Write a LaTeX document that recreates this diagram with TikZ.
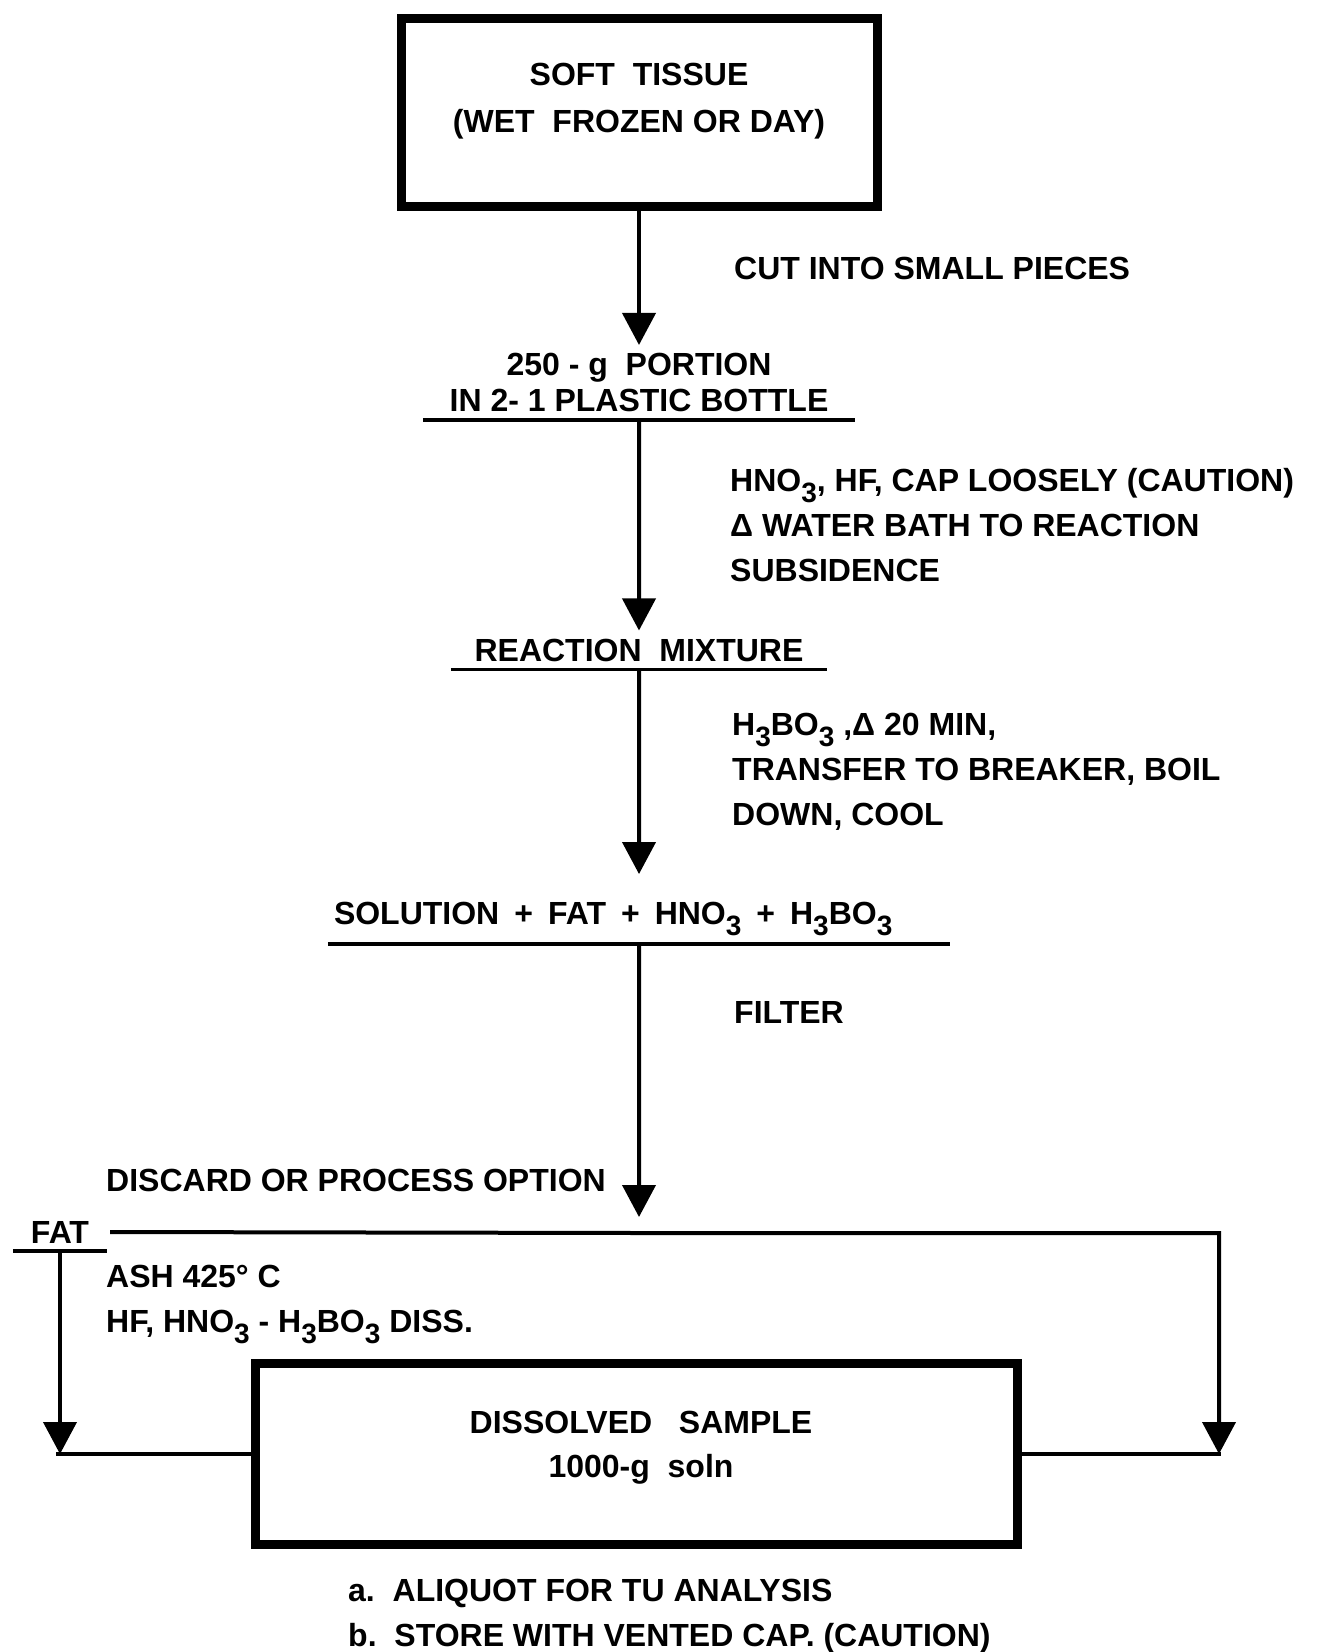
\documentclass[tikz,border=0pt]{standalone}
\usepackage{fontspec}
\setmainfont{Liberation Sans}
\usetikzlibrary{arrows.meta}

\newcommand{\chemsub}[1]{\raisebox{-.34em}{\fontsize{28}{28}\selectfont #1}}
\newcommand{\plusgap}{\hspace{15pt}+\hspace{15pt}}

\tikzset{
  flow/.style={line width=4pt, -{Triangle[width=33pt,length=32pt]}},
  rule/.style={line width=3.5pt},
  box/.style={draw, line width=9pt, inner sep=0pt},
  stage/.style={align=center, inner xsep=0pt, inner ysep=8pt},
  note/.style={align=left, anchor=west, inner sep=0pt},
}

\begin{document}
\begin{tikzpicture}[x=1pt, y=1pt, font=\fontsize{32}{45}\selectfont\bfseries,
    parent anchor=south, child anchor=north,
    edge from parent/.style={draw, flow}]
  \useasboundingbox (0,0) rectangle (1322,-1652);
  % main chain
  \node[box, minimum width=476pt, minimum height=188pt] (tissue) at (639,-112.5) {}
    child[level distance=270pt] { node[stage, minimum width=432pt] (portion)
        {250 - g\ \ PORTION\\[-9pt]IN 2- 1 PLASTIC BOTTLE}
      child[level distance=267.5pt] { node[stage, minimum width=376pt] (reaction)
          {REACTION\ \ MIXTURE}
        child[level distance=269pt] { node[stage, text width=622pt, align=left] (solution)
            {\hspace*{6pt}SOLUTION\plusgap FAT\plusgap HNO\chemsub{3}\plusgap H\chemsub{3}BO\chemsub{3}}
          child[level distance=314pt] { coordinate (split)
            edge from parent[shorten >=16pt] }
          edge from parent[shorten >=20pt] }
      }
    };
  \node[align=center] (tissuetext) at (639,-100.8)
    {SOFT\ \ TISSUE\\[2pt](WET\ \ FROZEN OR DAY)};

  % step notes
  \node[note] (cutnote) at (734,-268) {CUT INTO SMALL PIECES};
  \node[note] (acidnote) at (730,-525.5)
    {HNO\chemsub{3}, HF, CAP LOOSELY (CAUTION)\\Δ WATER BATH TO REACTION\\SUBSIDENCE};
  \node[note] (boricnote) at (732,-772)
    {H\chemsub{3}BO\chemsub{3} ,Δ 20 MIN,\\TRANSFER TO BREAKER, BOIL\\DOWN, COOL};
  \node[note] (filternote) at (734,-1012) {FILTER};
  \node[note] (discardnote) at (106,-1180) {DISCARD OR PROCESS OPTION};
  \node[note] (ashnote) at (106,-1304.6)
    {ASH 425° C\\HF, HNO\chemsub{3} - H\chemsub{3}BO\chemsub{3} DISS.};

  % fat branch and end
  \node[stage, minimum width=94pt] (fat) at (60,-1232) {FAT};
  \node[box, minimum width=762pt, minimum height=181pt] (sample) at (636.5,-1454) {};
  \node[align=center] (sampletext) at (641,-1447.3)
    {DISSOLVED\ \ \ SAMPLE\\[-1pt]1000-g\ \ soln};
  \node[note] (usenote) at (348,-1615.9)
    {a.\ \ ALIQUOT FOR TU ANALYSIS\\b.\ \ STORE WITH VENTED CAP. (CAUTION)};

  \foreach \n in {portion,reaction,solution,fat}
    \draw[rule] (\n.south west) -- (\n.south east);

  \coordinate (rightturn) at (1219,-1233);
  \coordinate (rightfoot) at (rightturn |- sample.east);
  \coordinate (leftfoot) at (fat.south |- sample.west);
  \draw[flow] ([xshift=3pt]fat.east) -- (split) -- (rightturn) -- (rightfoot);
  \draw[rule] (sample.east) -- ([xshift=2pt]rightfoot);
  \draw[flow] (fat.south) -- (leftfoot);
  \draw[rule] ([xshift=-4pt]leftfoot) -- (sample.west);
\end{tikzpicture}
\end{document}
